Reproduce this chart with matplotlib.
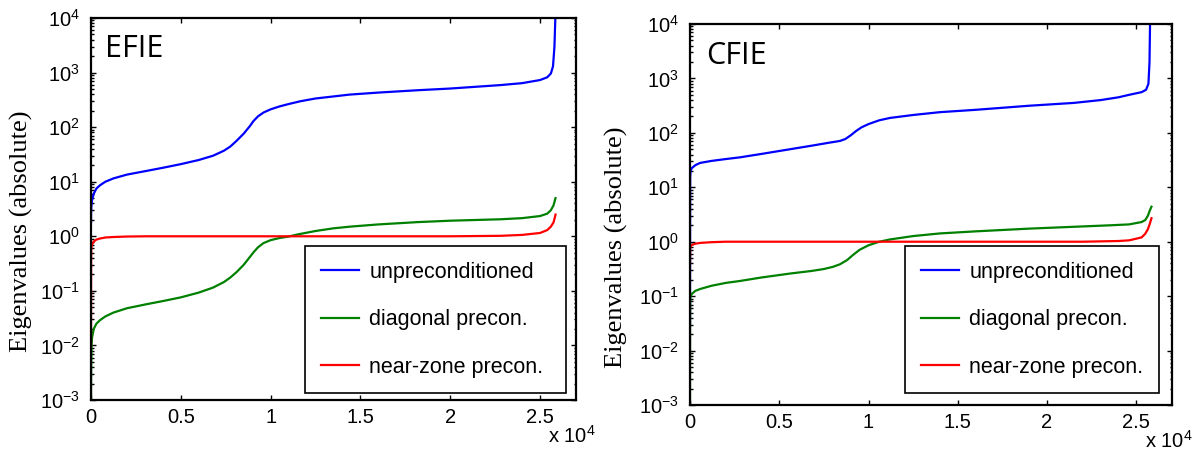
import math
import matplotlib
matplotlib.use('Agg')
import matplotlib.pyplot as plt
from matplotlib.ticker import FixedLocator, FuncFormatter, LogLocator, NullFormatter

plt.rcParams['font.family'] = ['Liberation Sans', 'DejaVu Sans']
plt.rcParams['mathtext.default'] = 'regular'

# ---------------- data ----------------
panel_titles = ['EFIE', 'CFIE']
series_labels = ['unpreconditioned', 'diagonal precon.', 'near-zone precon.']
series_colors = ['#0000ff', '#008000', '#ff0000']

# EFIE
efie_blue_x = [0, 5, 20, 50, 150, 300, 500, 800, 1250, 2000, 3100, 4000, 5000, 6000, 6800, 7400, 7750, 8100,
               8500, 8850, 9050, 9300, 9600, 10000, 10500, 11000, 11650, 12500, 14400, 16000, 18200, 20000,
               22800, 24000, 25000, 25400, 25600, 25720, 25800, 25850]
efie_blue_y = [1.8, 2.8, 3.5, 4.5, 6.0, 7.5, 8.6, 10.0, 11.5, 13.5, 15.8, 18, 21, 25, 30, 37, 44, 56,
               76, 105, 130, 158, 185, 212, 240, 265, 298, 335, 395, 430, 475, 510,
               590, 640, 730, 820, 960, 1300, 3000, 10000]

efie_green_x = [0, 10, 30, 60, 150, 300, 500, 800, 1250, 2000, 3100, 4000, 5000, 6000, 6800, 7400, 7750, 8100,
                8500, 8850, 9050, 9300, 9600, 10000, 10500, 11000, 11500, 12500, 13500, 14400, 16000, 18200,
                20000, 22800, 24000, 25000, 25400, 25600, 25750, 25820, 25860]
efie_green_y = [0.001, 0.004, 0.01, 0.014, 0.02, 0.025, 0.029, 0.034, 0.04, 0.048, 0.057, 0.065, 0.076, 0.093,
                0.115, 0.145, 0.175, 0.22, 0.3, 0.42, 0.51, 0.63, 0.75, 0.85, 0.93, 0.99, 1.08, 1.25, 1.4,
                1.5, 1.65, 1.82, 1.93, 2.05, 2.15, 2.35, 2.6, 3.0, 3.7, 4.5, 5.0]

efie_red_x = [0, 5, 15, 50, 150, 300, 500, 800, 1250, 2000, 3100, 20000, 22800, 24000, 25000, 25400, 25600,
              25750, 25820, 25860]
efie_red_y = [0.01, 0.3, 0.6, 0.7, 0.8, 0.87, 0.91, 0.95, 0.97, 0.99, 1.0, 1.0, 1.02, 1.06, 1.15, 1.3, 1.5,
              1.8, 2.2, 2.5]

# CFIE
cfie_blue_x = [0, 5, 10, 30, 100, 300, 560, 1200, 2000, 2800, 4000, 5600, 6800, 7800, 8400, 8700, 9000, 9300,
               9600, 10000, 10600, 11200, 12500, 14000, 16000, 19000, 21500, 23000, 24000, 24600, 25300,
               25550, 25680, 25740, 25770]
cfie_blue_y = [0.03, 3, 15, 20, 22.5, 25.5, 28, 30.5, 33, 35.5, 41, 50, 58, 66, 71, 77, 90, 108,
               126, 145, 170, 188, 213, 240, 265, 315, 355, 400, 450, 500, 560, 620, 800, 2000, 10000]

cfie_green_x = [0, 5, 10, 30, 100, 300, 560, 1200, 2000, 2800, 4000, 5600, 6800, 7500, 8000, 8400, 8800, 9100,
                9500, 10000, 10600, 11200, 12500, 14000, 16000, 19000, 21500, 23500, 24600, 25300, 25500,
                25650, 25750, 25850]
cfie_green_y = [0.001, 0.05, 0.085, 0.1, 0.11, 0.125, 0.135, 0.155, 0.175, 0.19, 0.22, 0.26, 0.29, 0.315, 0.345,
                0.385, 0.46, 0.56, 0.71, 0.86, 1.0, 1.1, 1.27, 1.42, 1.55, 1.74, 1.88, 2.0, 2.08, 2.3, 2.5,
                3.0, 3.7, 4.4]

cfie_red_x = [0, 5, 30, 100, 300, 560, 1200, 2000, 22000, 24000, 24600, 25300, 25500, 25650, 25750, 25850]
cfie_red_y = [0.4, 0.75, 0.82, 0.87, 0.92, 0.95, 0.98, 1.0, 1.0, 1.03, 1.06, 1.2, 1.4, 1.7, 2.1, 2.7]

x_ticks = [0, 5000, 10000, 15000, 20000, 25000]
y_ticks = [1e-3, 1e-2, 1e-1, 1e0, 1e1, 1e2, 1e3, 1e4]

panels = [
    dict(title=panel_titles[0],
         series=[(efie_blue_x, efie_blue_y), (efie_green_x, efie_green_y), (efie_red_x, efie_red_y)]),
    dict(title=panel_titles[1],
         series=[(cfie_blue_x, cfie_blue_y), (cfie_green_x, cfie_green_y), (cfie_red_x, cfie_red_y)]),
]

# ---------------- figure ----------------
W, H = 1199, 454
fig = plt.figure(figsize=(W / 100, H / 100), dpi=100)

axes_px = [(91, 18, 576, 400), (690, 24, 1172, 405)]
legend_px = [(305, 245, 566, 393), (905, 248, 1159, 393)]
ylabel_xy = [(33, 231), (628, 247)]
title_pos = [(0.029, 0.898), (0.033, 0.895)]
mult_pos = [(548, 443), (1145, 448)]


def xfmt(v, pos):
    return '0' if v == 0 else '%g' % (v / 1e4)


def yfmt(v, pos):
    return '10$^{%d}$' % round(math.log10(v))


for i, p in enumerate(panels):
    x0, y0, x1, y1 = axes_px[i]
    ax = fig.add_axes([x0 / W, 1 - y1 / H, (x1 - x0) / W, (y1 - y0) / H])
    for (xs, ys), lab, col in zip(p['series'], series_labels, series_colors):
        ax.plot(xs, ys, color=col, lw=1.6, label=lab, solid_joinstyle='round')
    ax.set_yscale('log')
    ax.set_xlim(0, 27000)
    ax.set_ylim(1e-3, 1e4)
    ax.xaxis.set_major_locator(FixedLocator(x_ticks))
    ax.xaxis.set_major_formatter(FuncFormatter(xfmt))
    ax.yaxis.set_major_locator(FixedLocator(y_ticks))
    ax.yaxis.set_major_formatter(FuncFormatter(yfmt))
    ax.yaxis.set_minor_locator(LogLocator(base=10, subs=range(2, 10), numticks=20))
    ax.yaxis.set_minor_formatter(NullFormatter())
    ax.tick_params(which='both', direction='in', top=True, right=True, labelsize=14.5, width=1.0)
    ax.tick_params(which='major', length=3.5)
    ax.tick_params(axis='y', which='major', pad=8)
    ax.tick_params(axis='x', which='major', pad=6)
    ax.tick_params(which='minor', length=1.8)
    for s in ax.spines.values():
        s.set_linewidth(1.6)
    ax.set_ylabel('Eigenvalues (absolute)', family='Liberation Serif', fontsize=19)
    lx, ly = ylabel_xy[i]
    ax.yaxis.set_label_coords((lx - x0) / (x1 - x0), (y1 - ly) / (y1 - y0))
    ax.text(title_pos[i][0], title_pos[i][1], p['title'], transform=ax.transAxes,
            family='Open Sans', fontsize=22, ha='left', va='baseline')
    lx0, ly0, lx1, ly1 = legend_px[i]
    leg = ax.legend(loc='lower left',
                    bbox_to_anchor=((lx0 - x0) / (x1 - x0), (y1 - ly1) / (y1 - y0),
                                    (lx1 - lx0) / (x1 - x0), (ly1 - ly0) / (y1 - y0)),
                    mode='expand', fontsize=15.5, frameon=True, fancybox=False, framealpha=1,
                    edgecolor='black', borderpad=0.72, labelspacing=1.22, handlelength=1.77,
                    handletextpad=0.5, borderaxespad=0)
    leg.get_frame().set_linewidth(1.2)
    fig.text(mult_pos[i][0] / W, 1 - mult_pos[i][1] / H, 'x 10$^{4}$', fontsize=14.5,
             ha='left', va='baseline')

fig.savefig('out.png', dpi=100)
